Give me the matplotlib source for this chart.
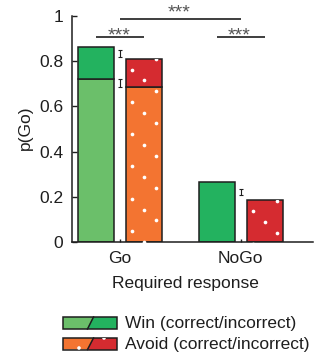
import matplotlib
matplotlib.use("Agg")
import matplotlib.pyplot as plt
from matplotlib.patches import Polygon, Rectangle, Circle
import numpy as np

plt.rcParams['font.family'] = ['Liberation Sans', 'DejaVu Sans']

# ---------------- data ----------------
conditions = ["Go", "NoGo"]
win_correct = [0.721, 0.0]      # correct Go responses (Go condition)
win_total = [0.864, 0.264]      # total p(Go)
avoid_correct = [0.684, 0.0]
avoid_total = [0.811, 0.184]
err_y = [0.833, 0.703, 0.220]   # error bars drawn between bars
err_x = [1, 1, 2]
err_val = [0.016, 0.018, 0.014]
sig_labels = ["***", "***", "***"]

# ---------------- style ----------------
LG = '#6bbf6a'; DG = '#23b25f'; OR = '#f37431'; RD = '#d52b30'
EC = '#1e1e1e'; TC = '#1e1e1e'
FS = 12.5

W, H = 322, 353
fig = plt.figure(figsize=(W / 100, H / 100), dpi=100)
ax = fig.add_axes([72 / W, 1 - 242 / H, 241 / W, 226 / H])

x = np.array([1.0, 2.0])
bw = 0.3
xw = x - 0.2
xa = x + 0.2

# Win bars: correct (light) + incorrect (dark) part
for i in range(2):
    if win_correct[i] > 0:
        ax.bar(xw[i], win_correct[i], bw, color=LG, edgecolor=EC, lw=1.1, zorder=2)
        ax.bar(xw[i], win_total[i] - win_correct[i], bw, bottom=win_correct[i],
               color=DG, edgecolor=EC, lw=1.1, zorder=2)
    else:
        ax.bar(xw[i], win_total[i], bw, color=DG, edgecolor=EC, lw=1.1, zorder=2)

# Avoid bars with white dot texture
for i in range(2):
    patches = []
    if avoid_correct[i] > 0:
        b1 = ax.bar(xa[i], avoid_correct[i], bw, color=OR, edgecolor=EC, lw=1.1, zorder=2)
        b2 = ax.bar(xa[i], avoid_total[i] - avoid_correct[i], bw, bottom=avoid_correct[i],
                    color=RD, edgecolor=EC, lw=1.1, zorder=2)
        patches = [b1[0], b2[0]]
    else:
        b1 = ax.bar(xa[i], avoid_total[i], bw, color=RD, edgecolor=EC, lw=1.1, zorder=2)
        patches = [b1[0]]
    # texture: lattice anchored at the bar top
    left = xa[i] - bw / 2
    top = avoid_total[i]
    period = 0.143
    for c, dx in enumerate([0.05, 0.15, 0.25]):
        phase = (0.0478 * (c + 1)) % period
        ys = np.arange(top - phase, -period, -period)
        for p in patches:
            sc = ax.scatter(np.full(len(ys), left + dx), ys, s=7, color='white',
                            linewidths=0, zorder=3)
            sc.set_clip_path(p)

# error bars
ax.errorbar(err_x, err_y, yerr=err_val, fmt='none', ecolor=EC, elinewidth=0.8,
            capsize=1.3, capthick=0.8, zorder=4)

# significance lines
sig_lines = [(1.0, 2.0, 0.985), (0.8, 1.2, 0.907), (1.8, 2.2, 0.907)]
sig_text_y = [0.995, 0.893, 0.893]
for (x0, x1, yy), ty, lab in zip(sig_lines, sig_text_y, sig_labels):
    ax.plot([x0, x1], [yy, yy], color=EC, lw=1.2, clip_on=False, solid_capstyle='butt')
    ax.text((x0 + x1) / 2 - 0.01, ty, lab, ha='center', va='baseline',
            fontsize=14, color='#555555', clip_on=False)

ax.set_xlim(0.6, 2.6)
ax.set_ylim(0, 1)
ax.set_xticks(x)
ax.set_xticklabels(conditions)
ax.set_yticks([0, 0.2, 0.4, 0.6, 0.8, 1.0])
ax.set_yticklabels(["0", "0.2", "0.4", "0.6", "0.8", "1"])
ax.tick_params(axis='y', direction='in', length=3.5, width=1.0, pad=6.3,
               labelsize=FS, colors=TC)
ax.tick_params(axis='x', direction='in', length=2.2, width=1.0, pad=6.5,
               labelsize=FS, colors=TC)
for s in ['top', 'right']:
    ax.spines[s].set_visible(False)
for s in ['left', 'bottom']:
    ax.spines[s].set_linewidth(1.1)
    ax.spines[s].set_color(EC)

fig.text(25 / W, 1 - 128 / H, "p(Go)", rotation=90, ha='center', va='center',
         fontsize=FS, color=TC)
fig.text(185 / W, 1 - 283.5 / H, "Required response", ha='center', va='center',
         fontsize=FS, color=TC)

# ---------------- legend (pixel coordinates overlay) ----------------
lax = fig.add_axes([0, 0, 1, 1])
lax.set_xlim(0, W)
lax.set_ylim(H, 0)
lax.axis('off')

def legend_box(y0, y1, c1, c2, dots):
    x0, x1 = 63, 117
    xb, xt = 87.5, 93.5
    lax.add_patch(Polygon([(x0, y0), (xt, y0), (xb, y1), (x0, y1)], closed=True,
                          facecolor=c1, edgecolor='none'))
    lax.add_patch(Polygon([(xt, y0), (x1, y0), (x1, y1), (xb, y1)], closed=True,
                          facecolor=c2, edgecolor='none'))
    frame = Rectangle((x0, y0), x1 - x0, y1 - y0, facecolor='none', edgecolor=EC, lw=1.1)
    lax.add_patch(frame)
    for (cx, cy) in dots:
        circ = Circle((cx, cy), 1.8, facecolor='white', edgecolor='none')
        lax.add_patch(circ)
        circ.set_clip_path(Rectangle((x0, y0), x1 - x0, y1 - y0, transform=lax.transData))
    lax.plot([xb, xt], [y1, y0], color=EC, lw=1.1)

legend_box(317, 329, LG, DG, [])
legend_box(338, 349.5, OR, RD, [(79, 348), (104, 338)])
lax.text(125, 323.5, "Win (correct/incorrect)", ha='left', va='center', fontsize=FS, color=TC)
lax.text(125, 344, "Avoid (correct/incorrect)", ha='left', va='center', fontsize=FS, color=TC)

fig.savefig("out.png", dpi=100)
